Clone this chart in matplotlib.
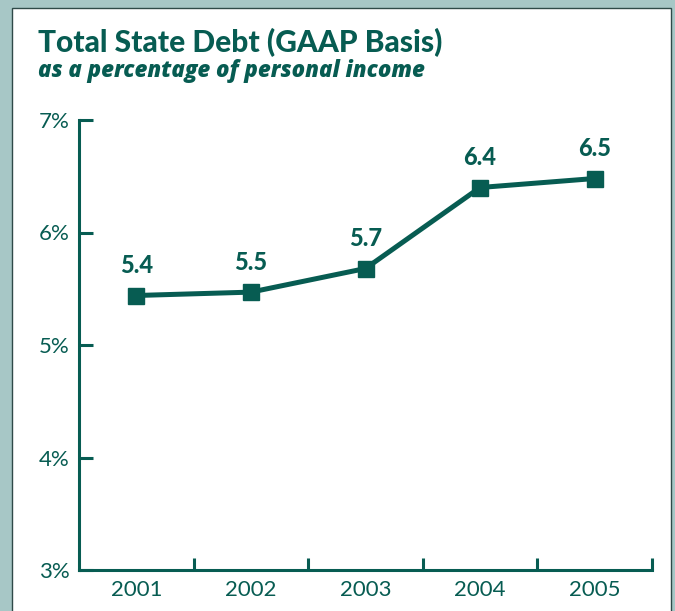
import matplotlib
matplotlib.use("Agg")
import matplotlib.pyplot as plt
from matplotlib.patches import Rectangle

years = ["2001", "2002", "2003", "2004", "2005"]
debt_pct = [5.44, 5.47, 5.68, 6.40, 6.48]
y_ticks = [3, 4, 5, 6, 7]

green = "#075c52"
frame_bg = "#a7c7c6"

plt.rcParams["font.family"] = ["Lato", "DejaVu Sans"]

fig = plt.figure(figsize=(6.75, 6.11), dpi=100, facecolor=frame_bg)

# white panel with thin dark border
panel = Rectangle((12 / 675, -0.01), (671 - 12) / 675, (611 - 8) / 611 + 0.01,
                  transform=fig.transFigure, facecolor="white",
                  edgecolor="#2f4a48", linewidth=1.0, zorder=-1)
fig.patches.append(panel)

ax = fig.add_axes([79 / 675, 1 - 570 / 611, (652 - 79) / 675, (570 - 120) / 611])
ax.set_zorder(2)
ax.set_facecolor("none")

x = list(range(len(years)))
ax.plot(x, debt_pct, color=green, linewidth=3.6, marker="s", markersize=11,
        solid_joinstyle="miter", clip_on=False)

for xi, v in zip(x, debt_pct):
    ax.annotate(f"{v:.1f}", (xi, v), xytext=(0, 13), textcoords="offset points",
                ha="center", va="bottom", fontsize=17, fontweight="black",
                color=green)

ax.set_xlim(-0.5, 4.5)
ax.set_ylim(3, 7)
ax.set_yticks(y_ticks)
ax.set_yticklabels([f"{t}%" for t in y_ticks])
ax.set_xticks(x)
ax.set_xticklabels(years)
ax.set_xticks([0.5, 1.5, 2.5, 3.5, 4.5], minor=True)

for side in ["top", "right"]:
    ax.spines[side].set_visible(False)
for side in ["left", "bottom"]:
    ax.spines[side].set_color(green)
    ax.spines[side].set_linewidth(2.2)

ax.tick_params(axis="y", direction="in", length=10, width=2.2, color=green,
               labelsize=16, labelcolor=green, pad=7)
ax.tick_params(axis="x", which="major", length=0, labelsize=16,
               labelcolor=green, pad=7)
ax.tick_params(axis="x", which="minor", direction="in", length=9, width=2.2,
               color=green)

fig.text(38 / 675, 1 - 52 / 611, "Total State Debt (GAAP Basis)", fontsize=21.5,
         fontweight="black", color=green, ha="left", va="baseline", zorder=3)
fig.text(38 / 675, 1 - 77 / 611, "as a percentage of personal income",
         family=["Open Sans", "DejaVu Sans"], fontsize=16, fontweight="extra bold",
         fontstyle="italic", color=green, ha="left", va="baseline", zorder=3)

fig.savefig("out.png", dpi=100, facecolor=frame_bg)
